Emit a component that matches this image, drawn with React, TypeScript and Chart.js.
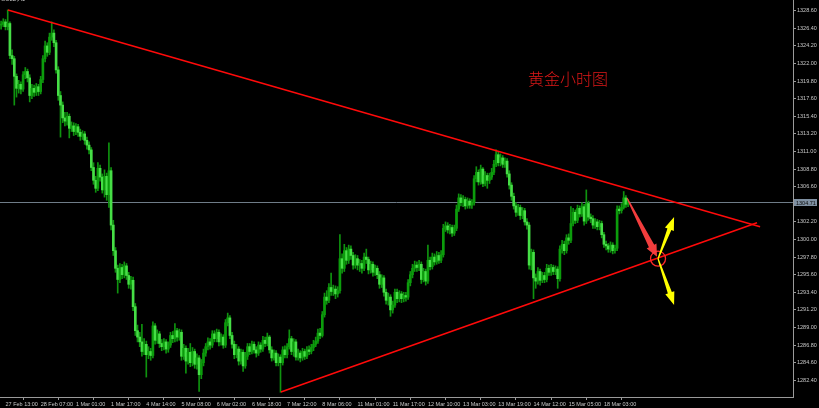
import { useEffect, useRef } from 'react';
import { Chart, registerables } from 'chart.js';

Chart.register(...registerables);

// ---- chart data -------------------------------------------------------------
const SYMBOL = 'GOLD,H1';
const TITLE = '黄金小时图';

const FIRST_OPEN = 1326.8;

const CLOSES = [
  1326.9, 1327.2, 1326.6, 1327.0, 1323.0, 1322.6, 1320.4, 1318.9, 1319.4, 1318.8,
  1320.6, 1321.0, 1320.2, 1318.0, 1318.9, 1318.4, 1319.1, 1318.5, 1320.0, 1322.6,
  1324.2, 1323.4, 1325.3, 1325.8, 1324.6, 1321.2, 1318.0, 1316.8, 1315.2, 1314.8,
  1315.4, 1313.9, 1314.2, 1313.5, 1314.1, 1313.4, 1312.9, 1313.2, 1312.4, 1311.8,
  1311.2, 1309.0, 1307.4, 1306.4, 1308.9, 1307.8, 1306.2, 1307.9, 1305.6, 1308.6,
  1301.8, 1298.6, 1296.4, 1295.0, 1296.5, 1295.6, 1296.7, 1295.5, 1294.4, 1294.9,
  1291.6, 1288.6, 1287.8, 1287.2, 1286.0, 1286.9, 1285.6, 1286.0, 1285.5, 1289.2,
  1287.4, 1288.2, 1287.0, 1286.6, 1287.2, 1286.3, 1286.8, 1288.0, 1287.6, 1288.6,
  1287.8, 1288.4, 1285.4, 1286.4, 1284.8, 1285.9, 1284.6, 1286.0, 1284.4, 1285.2,
  1283.1, 1284.6, 1285.8, 1286.6, 1287.2, 1286.8, 1288.2, 1287.6, 1288.4, 1287.2,
  1287.8, 1286.8, 1289.6, 1290.2, 1288.0, 1286.9, 1285.6, 1286.3, 1284.8, 1285.9,
  1284.2, 1285.4, 1286.6, 1286.0, 1286.9, 1286.2, 1285.8, 1286.8, 1286.3, 1287.4,
  1287.0, 1287.8, 1286.2, 1285.2, 1285.8, 1284.6, 1285.3, 1284.6, 1286.2, 1285.6,
  1286.6, 1287.6, 1286.0, 1287.2, 1285.3, 1285.8, 1285.2, 1286.0, 1285.4, 1286.2,
  1286.0, 1286.5, 1286.9, 1287.3, 1288.3, 1288.0, 1290.6, 1292.8, 1292.4, 1294.0,
  1293.5, 1293.8, 1293.2, 1293.6, 1297.6, 1296.4, 1298.6, 1297.4, 1298.8, 1298.0,
  1296.8, 1297.6, 1296.8, 1297.0, 1296.4, 1297.8, 1297.5, 1296.2, 1296.9, 1295.9,
  1296.4, 1295.6, 1294.4, 1295.2, 1293.4, 1292.4, 1292.8, 1291.2, 1291.8, 1293.4,
  1292.6, 1293.2, 1292.6, 1293.0, 1292.8, 1294.6, 1295.6, 1296.4, 1296.8, 1296.5,
  1296.9, 1295.0, 1296.0, 1294.8, 1297.4, 1296.6, 1297.8, 1297.2, 1298.0, 1297.4,
  1298.1, 1301.4, 1301.7, 1301.2, 1301.5, 1300.8, 1301.4, 1303.8, 1305.2, 1304.6,
  1305.0, 1304.2, 1304.8, 1304.3, 1304.6, 1307.6, 1308.4, 1307.2, 1308.8, 1307.0,
  1308.0, 1307.4, 1307.8, 1308.4, 1309.4, 1310.6, 1309.6, 1310.2, 1309.4, 1309.8,
  1308.2, 1306.8, 1305.4, 1304.2, 1303.4, 1304.0, 1303.0, 1303.6, 1302.2, 1301.8,
  1296.8, 1298.4, 1295.2, 1294.8, 1296.0, 1294.9, 1295.5, 1295.0, 1296.4, 1295.9,
  1296.5, 1296.0, 1296.3, 1295.1, 1298.8, 1299.4, 1298.6, 1300.2, 1299.9, 1302.0,
  1303.4, 1302.4, 1303.9, 1303.2, 1304.1, 1302.3, 1304.5, 1302.8, 1302.6, 1301.8,
  1302.2, 1301.6, 1302.0, 1300.6, 1299.4, 1299.2, 1298.8, 1299.3, 1298.6, 1298.9,
  1303.8, 1303.6, 1304.0, 1305.2, 1304.4, 1304.71,
];

const HIGHS = [
  1327.3, 1327.6, 1327.5, 1328.7, 1327.2, 1323.7, 1322.9, 1320.7, 1319.9, 1319.7,
  1321.0, 1321.5, 1321.3, 1320.6, 1319.4, 1319.3, 1319.5, 1319.4, 1320.4, 1323.0,
  1324.8, 1324.6, 1325.8, 1327.2, 1326.2, 1324.9, 1321.6, 1318.5, 1317.2, 1315.9,
  1315.9, 1315.7, 1314.7, 1314.6, 1314.5, 1314.4, 1313.8, 1313.6, 1313.5, 1312.8,
  1312.2, 1311.5, 1309.6, 1307.9, 1309.6, 1309.3, 1308.2, 1308.7, 1308.3, 1312.1,
  1309.0, 1302.4, 1299.0, 1296.8, 1297.0, 1296.9, 1297.2, 1297.0, 1295.9, 1295.4,
  1295.3, 1292.0, 1289.3, 1288.4, 1289.4, 1287.6, 1287.3, 1286.6, 1286.4, 1289.7,
  1289.5, 1288.7, 1288.5, 1287.5, 1287.6, 1287.5, 1287.2, 1288.4, 1288.5, 1289.5,
  1288.9, 1288.8, 1288.7, 1286.9, 1286.7, 1286.4, 1287.0, 1286.5, 1286.3, 1285.7,
  1285.5, 1285.0, 1286.3, 1287.0, 1287.7, 1287.6, 1288.6, 1288.6, 1288.8, 1288.7,
  1288.2, 1288.1, 1290.0, 1290.8, 1290.5, 1288.4, 1287.3, 1286.9, 1286.6, 1286.3,
  1286.2, 1285.9, 1287.0, 1287.0, 1287.3, 1287.2, 1286.6, 1287.2, 1287.1, 1287.9,
  1287.8, 1288.3, 1288.0, 1286.6, 1286.2, 1286.1, 1285.7, 1285.6, 1286.6, 1286.7,
  1287.0, 1288.7, 1287.9, 1287.6, 1287.5, 1286.3, 1286.1, 1286.4, 1286.3, 1286.6,
  1286.7, 1286.9, 1287.4, 1287.8, 1288.8, 1288.9, 1291.0, 1293.3, 1293.6, 1294.5,
  1295.8, 1294.3, 1294.2, 1294.1, 1300.6, 1298.2, 1299.4, 1299.0, 1299.3, 1299.2,
  1298.4, 1298.1, 1298.0, 1297.5, 1297.4, 1298.3, 1298.8, 1297.8, 1297.3, 1297.2,
  1296.8, 1296.7, 1296.0, 1295.6, 1295.5, 1293.8, 1293.3, 1293.1, 1292.3, 1293.8,
  1293.8, 1293.6, 1293.5, 1293.4, 1293.4, 1295.0, 1296.0, 1296.9, 1297.3, 1297.2,
  1297.4, 1297.2, 1296.4, 1296.3, 1299.3, 1297.8, 1298.3, 1298.2, 1298.5, 1298.4,
  1298.6, 1301.9, 1302.2, 1302.1, 1301.9, 1301.8, 1301.8, 1304.3, 1305.7, 1305.6,
  1305.5, 1305.3, 1305.2, 1305.1, 1305.0, 1308.0, 1309.1, 1308.7, 1309.3, 1309.0,
  1308.5, 1308.3, 1308.3, 1308.9, 1309.9, 1311.2, 1310.9, 1310.7, 1310.5, 1310.2,
  1310.1, 1308.6, 1307.1, 1305.8, 1304.6, 1304.4, 1304.3, 1304.0, 1303.9, 1302.6,
  1302.1, 1298.8, 1298.7, 1295.7, 1296.5, 1296.3, 1295.9, 1295.9, 1296.9, 1296.8,
  1296.9, 1296.8, 1296.7, 1296.6, 1299.2, 1299.9, 1299.8, 1300.6, 1300.7, 1304.1,
  1303.9, 1303.7, 1304.3, 1304.2, 1304.6, 1304.4, 1306.2, 1304.8, 1303.2, 1303.0,
  1302.6, 1302.5, 1302.4, 1302.3, 1300.9, 1299.8, 1299.5, 1299.7, 1299.6, 1299.3,
  1304.2, 1304.2, 1304.5, 1306.0, 1305.5, 1305.0,
];

const LOWS = [
  1326.3, 1326.6, 1326.2, 1326.2, 1322.6, 1321.9, 1316.8, 1317.8, 1318.3, 1318.2,
  1318.5, 1320.1, 1319.7, 1317.2, 1317.6, 1317.9, 1318.0, 1318.0, 1318.2, 1319.6,
  1322.2, 1322.9, 1323.1, 1324.9, 1324.1, 1320.8, 1317.4, 1312.8, 1314.6, 1314.2,
  1314.3, 1312.7, 1313.5, 1313.0, 1313.1, 1312.9, 1312.4, 1312.5, 1311.9, 1311.3,
  1310.7, 1308.6, 1306.9, 1305.9, 1306.1, 1307.3, 1305.8, 1305.3, 1304.9, 1304.0,
  1301.2, 1298.0, 1295.9, 1293.3, 1294.6, 1295.1, 1295.2, 1295.0, 1293.9, 1293.8,
  1291.1, 1288.0, 1287.2, 1286.6, 1285.4, 1285.6, 1282.8, 1285.1, 1284.9, 1285.2,
  1286.9, 1287.0, 1286.5, 1286.1, 1286.2, 1285.8, 1285.9, 1286.5, 1287.1, 1287.2,
  1287.3, 1287.4, 1284.9, 1285.0, 1283.3, 1284.4, 1284.1, 1284.2, 1283.9, 1283.8,
  1281.0, 1282.6, 1284.2, 1285.4, 1286.2, 1286.3, 1286.5, 1287.2, 1287.2, 1286.7,
  1286.8, 1286.4, 1286.5, 1289.2, 1287.6, 1286.4, 1285.1, 1285.2, 1284.3, 1284.4,
  1283.5, 1283.9, 1285.0, 1285.6, 1285.7, 1285.8, 1285.3, 1285.5, 1285.9, 1286.0,
  1286.6, 1286.7, 1285.8, 1284.8, 1284.9, 1284.2, 1284.2, 1280.9, 1284.3, 1285.2,
  1285.2, 1286.3, 1285.6, 1285.4, 1284.9, 1284.9, 1284.7, 1284.9, 1285.0, 1285.1,
  1285.6, 1285.7, 1286.1, 1286.6, 1287.0, 1287.6, 1287.8, 1290.3, 1291.9, 1292.1,
  1293.0, 1293.0, 1292.6, 1292.8, 1293.3, 1295.8, 1296.0, 1296.9, 1297.0, 1297.5,
  1296.3, 1296.4, 1296.2, 1296.0, 1295.8, 1296.1, 1297.0, 1295.7, 1295.8, 1295.4,
  1295.5, 1295.1, 1293.9, 1294.0, 1292.9, 1291.9, 1291.8, 1290.4, 1290.8, 1291.5,
  1292.1, 1292.2, 1292.1, 1292.2, 1292.3, 1292.5, 1294.2, 1295.2, 1296.0, 1296.0,
  1296.1, 1294.5, 1294.7, 1294.3, 1294.5, 1296.2, 1296.3, 1296.8, 1296.9, 1297.0,
  1297.1, 1297.8, 1301.0, 1300.8, 1300.7, 1300.4, 1300.5, 1301.1, 1303.5, 1304.2,
  1304.1, 1303.8, 1303.9, 1303.9, 1303.9, 1304.3, 1307.2, 1306.8, 1306.9, 1306.6,
  1306.7, 1306.4, 1307.0, 1307.5, 1308.1, 1309.1, 1309.2, 1309.2, 1309.0, 1309.0,
  1307.8, 1306.3, 1304.9, 1303.8, 1302.9, 1303.0, 1302.5, 1302.6, 1301.8, 1301.3,
  1296.3, 1296.2, 1292.6, 1293.9, 1294.4, 1294.3, 1294.6, 1294.6, 1294.7, 1295.5,
  1295.5, 1295.6, 1295.6, 1293.9, 1294.8, 1298.3, 1298.1, 1298.3, 1299.4, 1299.6,
  1301.7, 1302.0, 1302.1, 1302.8, 1302.9, 1301.8, 1302.0, 1302.4, 1302.1, 1301.4,
  1301.4, 1301.2, 1301.2, 1300.2, 1299.0, 1298.7, 1298.4, 1298.4, 1298.2, 1298.3,
  1298.6, 1303.2, 1303.3, 1303.8, 1304.0, 1304.1,
];

// bar index of each time label on the bottom axis
const TIME_TICK_BARS = [2, 18, 34, 50, 66, 82, 98, 114, 130, 146, 162, 178, 194, 210, 226, 242, 258, 274];
const TIME_TICK_LABELS = [
  '27 Feb 13:00', '28 Feb 07:00', '1 Mar 01:00', '1 Mar 17:00', '4 Mar 14:00', '5 Mar 08:00',
  '6 Mar 02:00', '6 Mar 18:00', '7 Mar 12:00', '8 Mar 06:00', '11 Mar 01:00', '11 Mar 17:00',
  '12 Mar 10:00', '13 Mar 03:00', '13 Mar 19:00', '14 Mar 12:00', '15 Mar 05:00', '18 Mar 03:00',
];

const PRICE_TICKS = [
  1282.4, 1284.6, 1286.8, 1289.0, 1291.2, 1293.4, 1295.6, 1297.8, 1300.0, 1302.2, 1304.4,
  1306.6, 1308.8, 1311.0, 1313.2, 1315.4, 1317.6, 1319.8, 1322.0, 1324.2, 1326.4, 1328.6,
];
const PRICE_MIN = 1280.31;
const PRICE_MAX = 1329.94;
const BAR_MIN = -0.5;
const BAR_MAX = 359.95;
const LAST_PRICE = 1304.71;

// drawn objects, in [bar index, price]
const UPPER_TREND = [[3.1, 1328.7], [345.0, 1301.6]];
const LOWER_TREND = [[127.2, 1280.94], [343.6, 1302.1]];
const PIVOT = [298.6, 1297.6];
const RED_ARROW_FROM = [284.5, 1305.2];
const YELLOW_UP_TO = [305.9, 1302.8];
const YELLOW_DOWN_TO = [305.9, 1291.8];
const TITLE_AT = [239.5, 1320.1];

// ---- styling ----------------------------------------------------------------
const AXIS_COLOR = '#9a9a9a';
const LABEL_COLOR = '#c8c8c8';
const AXIS_FONT = { family: '"Liberation Sans", Arial, sans-serif', size: 5.5 };
const WICK_COLOR = '#0f930f';
const BULL_BODY = '#0c9c0c';
const BEAR_BODY = '#46de46';

const OPENS = [FIRST_OPEN, ...CLOSES.slice(0, -1)];

function wedgeArrow(
  ctx: CanvasRenderingContext2D,
  x0: number, y0: number, x1: number, y1: number,
  w0: number, w1: number, headW: number, headL: number, color: string,
) {
  const dx = x1 - x0;
  const dy = y1 - y0;
  const len = Math.hypot(dx, dy);
  const ux = dx / len;
  const uy = dy / len;
  const px = -uy;
  const py = ux;
  const bx = x1 - ux * headL;
  const by = y1 - uy * headL;
  ctx.beginPath();
  ctx.moveTo(x0 + (px * w0) / 2, y0 + (py * w0) / 2);
  ctx.lineTo(bx + (px * w1) / 2, by + (py * w1) / 2);
  ctx.lineTo(bx + (px * headW) / 2, by + (py * headW) / 2);
  ctx.lineTo(x1, y1);
  ctx.lineTo(bx - (px * headW) / 2, by - (py * headW) / 2);
  ctx.lineTo(bx - (px * w1) / 2, by - (py * w1) / 2);
  ctx.lineTo(x0 - (px * w0) / 2, y0 - (py * w0) / 2);
  ctx.closePath();
  ctx.fillStyle = color;
  ctx.fill();
}

const overlayPlugin = {
  id: 'overlay',
  beforeDatasetsDraw(chart: any) {
    const { ctx, chartArea, scales } = chart;
    const y = Math.round(scales.y.getPixelForValue(LAST_PRICE)) + 0.5;
    ctx.save();
    ctx.strokeStyle = '#6f7c88';
    ctx.lineWidth = 1;
    ctx.beginPath();
    ctx.moveTo(chartArea.left, y);
    ctx.lineTo(chartArea.right, y);
    ctx.stroke();
    ctx.restore();
  },
  afterDatasetsDraw(chart: any) {
    const { ctx, chartArea, scales } = chart;
    const px = (p: number[]) => [scales.x.getPixelForValue(p[0]), scales.y.getPixelForValue(p[1])];
    ctx.save();
    ctx.beginPath();
    ctx.rect(chartArea.left, chartArea.top, chartArea.right - chartArea.left, chartArea.bottom - chartArea.top);
    ctx.clip();

    // trend lines
    ctx.strokeStyle = '#ff0a0a';
    ctx.lineWidth = 1.6;
    for (const line of [UPPER_TREND, LOWER_TREND]) {
      const [a, b] = [px(line[0]), px(line[1])];
      ctx.beginPath();
      ctx.moveTo(a[0], a[1]);
      ctx.lineTo(b[0], b[1]);
      ctx.stroke();
    }

    const [cx, cy] = px(PIVOT);
    // ring on the lower line
    ctx.strokeStyle = '#ff2a2a';
    ctx.lineWidth = 1.3;
    ctx.beginPath();
    ctx.arc(cx, cy, 7.5, 0, Math.PI * 2);
    ctx.stroke();

    // pull-back arrow
    const [rx, ry] = px(RED_ARROW_FROM);
    wedgeArrow(ctx, rx, ry, cx - 1, cy - 2, 1.2, 6, 11, 12, 'rgba(255,64,64,0.95)');

    // two possible continuations
    const [ux, uy] = px(YELLOW_UP_TO);
    const [dx, dy] = px(YELLOW_DOWN_TO);
    wedgeArrow(ctx, cx, cy, ux, uy, 1.2, 4.2, 9.5, 13, '#ffff00');
    wedgeArrow(ctx, cx, cy, dx, dy, 1.2, 4.2, 9.5, 13, '#ffff00');

    // title
    const [tx, ty] = px(TITLE_AT);
    ctx.fillStyle = '#e01818';
    ctx.font = '300 16px "Noto Sans CJK SC", sans-serif';
    ctx.textAlign = 'left';
    ctx.textBaseline = 'middle';
    ctx.fillText(TITLE, tx, ty);
    ctx.restore();
  },
  afterDraw(chart: any) {
    const { ctx, chartArea, scales } = chart;
    ctx.save();
    // last price tag on the price axis
    const y = Math.round(scales.y.getPixelForValue(LAST_PRICE)) + 0.5;
    ctx.fillStyle = '#7f90a2';
    ctx.fillRect(chartArea.right + 1, y - 3.5, 23, 7);
    ctx.fillStyle = '#0c0c0c';
    ctx.font = `${AXIS_FONT.size}px ${AXIS_FONT.family}`;
    ctx.textAlign = 'left';
    ctx.textBaseline = 'middle';
    ctx.fillText(LAST_PRICE.toFixed(2), chartArea.right + 3, y + 0.5);

    // symbol caption
    ctx.fillStyle = LABEL_COLOR;
    ctx.textBaseline = 'bottom';
    ctx.fillText(SYMBOL, 1, 2.5);
    ctx.restore();
  },
};

export default function App() {
  const canvasRef = useRef<HTMLCanvasElement | null>(null);

  useEffect(() => {
    const canvas = canvasRef.current;
    if (!canvas) return;

    const wicks = CLOSES.map((_, i) => ({ x: i, y: [LOWS[i], HIGHS[i]] }));
    const bodies = CLOSES.map((c, i) => ({ x: i, y: [OPENS[i], c] }));
    const bodyColors = CLOSES.map((c, i) => (c >= OPENS[i] ? BULL_BODY : BEAR_BODY));

    const chart = new Chart(canvas, {
      type: 'bar',
      data: {
        datasets: [
          {
            label: 'wick',
            data: wicks as any,
            backgroundColor: WICK_COLOR,
            barThickness: 1,
            grouped: false,
            order: 2,
            borderWidth: 0,
          },
          {
            label: 'body',
            data: bodies as any,
            backgroundColor: bodyColors,
            barThickness: 2,
            minBarLength: 1,
            grouped: false,
            order: 1,
            borderWidth: 0,
          },
        ],
      },
      options: {
        responsive: false,
        animation: false,
        devicePixelRatio: 1,
        layout: { padding: 0 },
        plugins: {
          legend: { display: false },
          tooltip: { enabled: false },
        },
        scales: {
          x: {
            type: 'linear',
            position: 'bottom',
            min: BAR_MIN,
            max: BAR_MAX,
            offset: false,
            grid: { drawOnChartArea: false, drawTicks: true, tickLength: 3, color: AXIS_COLOR },
            border: { display: true, color: AXIS_COLOR },
            ticks: {
              autoSkip: false,
              maxRotation: 0,
              align: 'start',
              padding: 1,
              color: LABEL_COLOR,
              font: AXIS_FONT,
              callback: (_v: any, i: number) => TIME_TICK_LABELS[i],
            },
            afterBuildTicks: (scale: any) => {
              scale.ticks = TIME_TICK_BARS.map((v) => ({ value: v }));
            },
            afterFit: (scale: any) => {
              scale.height = 11;
              scale.paddingLeft = 0;
              scale.paddingRight = 0;
            },
          },
          y: {
            type: 'linear',
            position: 'right',
            min: PRICE_MIN,
            max: PRICE_MAX,
            grid: { drawOnChartArea: false, drawTicks: true, tickLength: 3, color: AXIS_COLOR },
            border: { display: true, color: AXIS_COLOR },
            ticks: {
              autoSkip: false,
              padding: 1,
              color: LABEL_COLOR,
              font: AXIS_FONT,
              callback: (v: any) => Number(v).toFixed(2),
            },
            afterBuildTicks: (scale: any) => {
              scale.ticks = PRICE_TICKS.map((v) => ({ value: v }));
            },
            afterFit: (scale: any) => {
              scale.width = 26;
              scale.paddingTop = 0;
              scale.paddingBottom = 0;
            },
          },
        },
      } as any,
      plugins: [overlayPlugin],
    });

    return () => chart.destroy();
  }, []);

  return (
    <div style={{ position: 'fixed', left: 0, top: 0, width: 819, height: 408, background: '#000000' }}>
      <canvas ref={canvasRef} width={819} height={408} style={{ display: 'block' }} />
    </div>
  );
}
